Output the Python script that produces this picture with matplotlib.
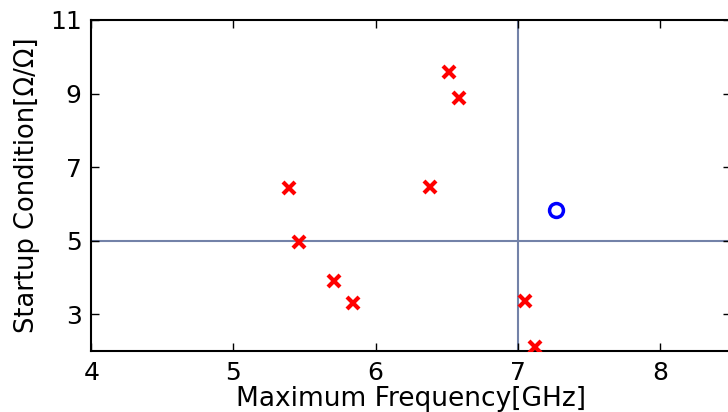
import matplotlib
matplotlib.use("Agg")
import matplotlib.pyplot as plt

# Designs that fail the spec (red crosses)
fail_freq = [6.38, 6.52, 6.59, 5.39, 5.46, 5.71, 5.84, 7.05, 7.12]
fail_start = [6.47, 9.58, 8.87, 6.44, 4.97, 3.91, 3.30, 3.37, 2.10]

# Design meeting both limits (blue circle)
pass_freq = [7.27]
pass_start = [5.83]

# Spec limits
freq_limit = 7.0
start_limit = 5.0

xticks = [4, 5, 6, 7, 8]
yticks = [3, 5, 7, 9, 11]

fig = plt.figure(figsize=(7.28, 4.12), dpi=100)
ax = fig.add_axes([0.1254, 0.148, 0.8786, 0.8035])

ax.axhline(start_limit, color="#7382a8", lw=1.5, zorder=1)
ax.axvline(freq_limit, color="#7382a8", lw=1.5, zorder=1)

ax.plot(fail_freq, fail_start, ls="none", marker="x", ms=9, mew=3,
        color="red", zorder=3)
ax.plot(pass_freq, pass_start, ls="none", marker="o", ms=10, mew=2.5,
        mfc="none", mec="blue", zorder=3)

ax.set_xlim(4, 8.5)
ax.set_ylim(2, 11)
ax.set_xticks(xticks)
ax.set_yticks(yticks)
ax.tick_params(direction="in", length=6, width=1, top=True, right=True,
               labelsize=18, pad=7)
for s in ax.spines.values():
    s.set_linewidth(1.5)

ax.set_xlabel("Maximum Frequency[GHz]", fontsize=19, labelpad=1)
ax.set_ylabel("Startup Condition[Ω/Ω]", fontsize=18.5, labelpad=7)

fig.savefig("out.png", dpi=100)
